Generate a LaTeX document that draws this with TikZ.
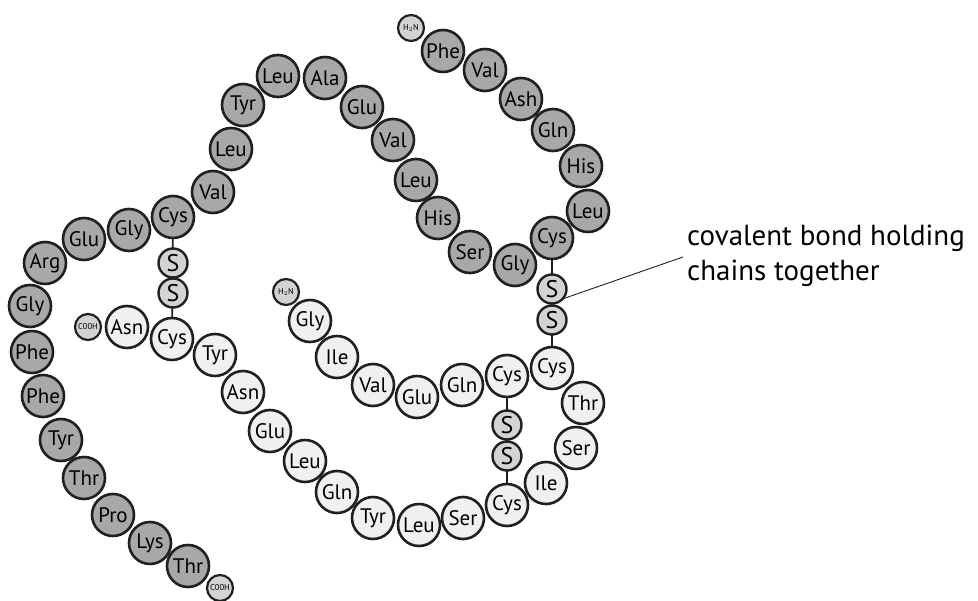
\documentclass[tikz,border=0pt]{standalone}
\usepackage{fontspec}
\setmainfont{PT Sans}
\definecolor{bchain}{HTML}{A7A8AA}
\definecolor{achain}{HTML}{EFF0F1}
\definecolor{sfill}{HTML}{D2D3D5}
\definecolor{edge}{HTML}{231F20}
\begin{document}
\begin{tikzpicture}[x=1pt,y=-1pt,
  res/.style={circle,draw=edge,line width=2.6pt,minimum size=42pt,inner sep=0pt,font=\fontsize{21}{21}\selectfont},
  bres/.style={res,fill=bchain},
  ares/.style={res,fill=achain},
  sres/.style={circle,draw=edge,line width=2.4pt,fill=sfill,minimum size=29pt,inner sep=0pt,font=\fontsize{24}{24}\selectfont},
  endres/.style={circle,draw=edge,line width=2.2pt,fill=sfill,minimum size=26pt,inner sep=0pt,font=\fontsize{8.5}{8.5}\selectfont},
  bond/.style={draw=edge,line width=1.8pt},
  lbl/.style={draw=edge,line width=0.9pt},
  labtext/.style={anchor=base west,inner sep=0pt,font=\fontsize{29}{29}\selectfont}]
\useasboundingbox (0,0) rectangle (978,601);
% disulfide bonds (behind)
\coordinate (d1a) at (173,217); \coordinate (d1b) at (172,339);
\coordinate (d2a) at (552,238); \coordinate (d2b) at (552,368);
\coordinate (d3a) at (507,376); \coordinate (d3b) at (507,505);
\draw[bond] (d1a) -- (d1b);
\draw[bond] (d2a) -- (d2b);
\draw[bond] (d3a) -- (d3b);
% B chain
\node[endres] (bn) at (411,28) {H$_2$N};
\foreach \n/\x/\y/\t in {b1/443/51/Phe,b2/485/70/Val,b3/521/99/Ash,b4/553/130/Gln,b5/581/166/His,b6/588/211/Leu,b7/552/238/Cys,b8/515/265/Gly,b9/470/252/Ser,b10/438/218/His,b11/416/180/Leu,b12/393/140/Val,b13/362/107/Glu,b14/325/78/Ala,b15/278/76/Leu,b16/243/105/Tyr,b17/231/149/Leu,b18/213/192/Val,b19/173/217/Cys,b20/129/230/Gly,b21/84/239/Glu,b22/45/263/Arg,b23/30/306/Gly,b24/32/352/Phe,b25/43/396/Phe,b26/61/440/Tyr,b27/84/478/Thr,b28/113/515/Pro,b29/150/543/Lys,b30/188/566/Thr}
  \node[bres] (\n) at (\x,\y) {\t};
\node[endres] (bc) at (220,588) {C00H};
% A chain
\node[endres] (an) at (286,292) {H$_2$N};
\foreach \n/\x/\y/\t in {a1/310/321/Gly,a2/337/357/Ile,a3/373/385/Val,a4/417/397/Glu,a5/462/385/Gln,a6/507/376/Cys,a7/552/368/Cys,a8/583/403/Thr,a9/576/448/Ser,a10/546/483/Ile,a11/507/505/Cys,a12/463/518/Ser,a13/419/525/Leu,a14/373/518/Tyr,a15/337/492/Gln,a16/305/461/Leu,a17/270/431/Glu,a18/243/392/Asn,a19/215/355/Tyr,a20/172/339/Cys,a21/127/327/Asn}
  \node[ares] (\n) at (\x,\y) {\t};
\node[endres] (ac) at (88,327) {C00H};
% sulfur atoms
\node[sres] (s1) at (173,263) {S};
\node[sres] (s2) at (173,293) {S};
\node[sres] (s3) at (552,289) {S};
\node[sres] (s4) at (552,320) {S};
\node[sres] (s5) at (507,425) {S};
\node[sres] (s6) at (507,456) {S};
% label
\node[labtext] (lab1) at (687,246) {covalent bond holding};
\node[labtext] (lab2) at (687,281) {chains together};
\coordinate (lp) at (683,257);
\draw[lbl] (s3.south east) ++(-1,-1) -- (lp);
\end{tikzpicture}
\end{document}
